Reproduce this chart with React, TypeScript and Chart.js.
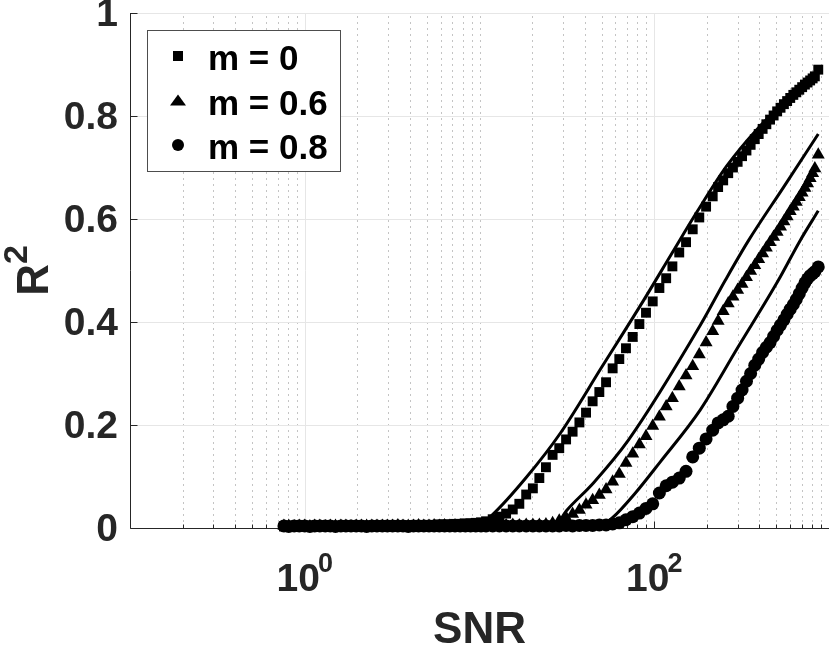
import { useEffect, useRef } from "react"
import { Chart, registerables } from "chart.js"

Chart.register(...registerables)

// SNR values shared by the three simulated series
const snr = [
  0.76, 0.81, 0.87, 0.93, 1.0, 1.07, 1.14, 1.22, 1.31, 1.4,
  1.5, 1.61, 1.72, 1.84, 1.97, 2.11, 2.26, 2.42, 2.59, 2.78,
  2.97, 3.18, 3.41, 3.65, 3.91, 4.19, 4.48, 4.8, 5.14, 5.5,
  5.89, 6.31, 6.76, 7.24, 7.75, 8.3, 8.89, 9.52, 10.2, 10.9,
  11.9, 13.0, 14.2, 15.5, 16.9, 18.5, 20.2, 22.0, 24.0, 26.2,
  28.6, 31.3, 34.1, 37.3, 40.7, 44.4, 48.5, 53.0, 57.8, 63.1,
  68.9, 75.3, 82.2, 89.7, 98.0, 107, 117, 127, 139, 152,
  166, 181, 198, 216, 232, 248, 265, 282, 300, 318,
  337, 356, 376, 396, 417, 438, 460, 482, 505, 528,
  552, 576, 600, 625, 650, 676, 702, 728, 754, 780,
  806, 830, 868,
]

// m = 0 (squares)
const r2M0 = [
  0.003, 0.003, 0.003, 0.004, 0.003, 0.004, 0.003, 0.004, 0.004, 0.003,
  0.004, 0.004, 0.003, 0.004, 0.004, 0.004, 0.005, 0.004, 0.004, 0.005,
  0.005, 0.004, 0.005, 0.005, 0.005, 0.006, 0.005, 0.006, 0.006, 0.006,
  0.007, 0.007, 0.007, 0.008, 0.008, 0.009, 0.009, 0.01, 0.011, 0.013,
  0.017, 0.022, 0.028, 0.036, 0.047, 0.065, 0.077, 0.097, 0.118, 0.142,
  0.155, 0.172, 0.187, 0.205, 0.224, 0.246, 0.264, 0.283, 0.31, 0.328,
  0.349, 0.371, 0.396, 0.418, 0.44, 0.466, 0.485, 0.508, 0.535, 0.555,
  0.58, 0.603, 0.624, 0.644, 0.662, 0.675, 0.689, 0.7, 0.711, 0.722,
  0.733, 0.744, 0.755, 0.765, 0.775, 0.784, 0.793, 0.801, 0.809, 0.816,
  0.823, 0.829, 0.835, 0.841, 0.846, 0.851, 0.856, 0.861, 0.865, 0.869,
  0.873, 0.877, 0.89,
]

// m = 0.6 (triangles)
const r2M06 = [
  0.004, 0.004, 0.003, 0.004, 0.004, 0.003, 0.004, 0.004, 0.003, 0.004,
  0.004, 0.004, 0.004, 0.003, 0.004, 0.004, 0.004, 0.004, 0.004, 0.004,
  0.004, 0.004, 0.005, 0.004, 0.004, 0.004, 0.005, 0.004, 0.004, 0.005,
  0.004, 0.005, 0.004, 0.005, 0.005, 0.004, 0.005, 0.005, 0.005, 0.005,
  0.005, 0.005, 0.005, 0.006, 0.005, 0.006, 0.006, 0.006, 0.007, 0.009,
  0.014, 0.02, 0.027, 0.035, 0.045, 0.054, 0.064, 0.075, 0.09, 0.105,
  0.126, 0.144, 0.162, 0.178, 0.198, 0.216, 0.236, 0.252, 0.275, 0.296,
  0.314, 0.337, 0.36, 0.382, 0.402, 0.421, 0.436, 0.449, 0.462, 0.474,
  0.487, 0.499, 0.51, 0.522, 0.533, 0.544, 0.555, 0.565, 0.575, 0.585,
  0.595, 0.605, 0.615, 0.624, 0.633, 0.642, 0.651, 0.66, 0.669, 0.679,
  0.689, 0.698, 0.725,
]

// m = 0.8 (circles)
const r2M08 = [
  0.004, 0.003, 0.004, 0.004, 0.004, 0.003, 0.004, 0.004, 0.004, 0.004,
  0.003, 0.004, 0.004, 0.004, 0.004, 0.004, 0.003, 0.004, 0.004, 0.004,
  0.004, 0.004, 0.004, 0.004, 0.003, 0.004, 0.004, 0.004, 0.004, 0.004,
  0.004, 0.004, 0.004, 0.004, 0.004, 0.004, 0.004, 0.004, 0.004, 0.004,
  0.004, 0.004, 0.004, 0.004, 0.004, 0.004, 0.004, 0.004, 0.004, 0.004,
  0.004, 0.005, 0.004, 0.005, 0.005, 0.005, 0.006, 0.006, 0.008, 0.01,
  0.016, 0.022, 0.029, 0.038, 0.047, 0.068, 0.082, 0.089, 0.097, 0.11,
  0.138, 0.155, 0.173, 0.19, 0.204, 0.21, 0.217, 0.236, 0.252, 0.268,
  0.285, 0.3, 0.316, 0.328, 0.341, 0.351, 0.36, 0.372, 0.384, 0.394,
  0.404, 0.415, 0.425, 0.434, 0.444, 0.455, 0.466, 0.476, 0.484, 0.49,
  0.494, 0.498, 0.507,
]

// fitted curves (solid lines)
const fitM0Snr = [0.76, 10.0, 11.8, 18.5, 29.0, 50.2, 86.9, 126, 175, 260, 387, 573, 865]
const fitM0R2 = [0.004, 0.006, 0.025, 0.098, 0.184, 0.313, 0.442, 0.533, 0.613, 0.703, 0.774, 0.83, 0.882]
const fitM06Snr = [0.76, 27, 31.7, 45, 71.3, 183, 255, 346, 550, 868]
const fitM06R2 = [0.004, 0.006, 0.035, 0.088, 0.171, 0.393, 0.481, 0.558, 0.662, 0.765]
const fitM08Snr = [0.76, 50, 57.3, 78, 108, 183, 300, 513, 683, 868]
const fitM08R2 = [0.004, 0.006, 0.019, 0.068, 0.128, 0.229, 0.35, 0.481, 0.558, 0.616]

const yTicks = [0, 0.2, 0.4, 0.6, 0.8, 1]
const xMajorTicks = [1, 100]
const xTickExponents = ["0", "2"]
const legendLabels = ["m = 0", "m = 0.6", "m = 0.8"]
const legendMarkers = ["rect", "triangle", "circle"]

const FONT = '"Liberation Sans", Arial, Helvetica, sans-serif'
const AXIS_COLOR = "#262626"

const toPoints = (xs: number[], ys: number[]) => xs.map((x, i) => ({ x, y: ys[i] }))

const crisp = (v: number) => Math.round(v) + 0.5

// grid, axes and inward ticks in the MATLAB style
const axesPlugin = {
  id: "matlabAxes",
  beforeDatasetsDraw(chart: any) {
    const { ctx, chartArea: a, scales } = chart
    const xs = scales.x
    const ys = scales.y
    ctx.save()
    ctx.lineWidth = 1

    // minor x grid (dotted)
    const minors: number[] = []
    for (let e = -1; e < 3; e++) {
      for (let k = 1; k < 10; k++) {
        const v = k * Math.pow(10, e)
        if (e === -1 && k === 1) continue
        if (xMajorTicks.some((m) => Math.abs(m - v) < 1e-9)) continue
        minors.push(v)
      }
    }
    ctx.strokeStyle = "#c4c4c4"
    ctx.setLineDash([2, 4])
    minors.forEach((v) => {
      const px = crisp(xs.getPixelForValue(v))
      ctx.beginPath()
      ctx.moveTo(px, a.bottom)
      ctx.lineTo(px, a.top)
      ctx.stroke()
    })

    // major grid (solid)
    ctx.setLineDash([])
    ctx.strokeStyle = "#e6e6e6"
    xMajorTicks.forEach((v) => {
      const px = crisp(xs.getPixelForValue(v))
      ctx.beginPath()
      ctx.moveTo(px, a.bottom)
      ctx.lineTo(px, a.top)
      ctx.stroke()
    })
    yTicks.forEach((v) => {
      if (v === 0) return
      const py = crisp(ys.getPixelForValue(v))
      ctx.beginPath()
      ctx.moveTo(a.left, py)
      ctx.lineTo(a.right, py)
      ctx.stroke()
    })

    // axes lines
    ctx.strokeStyle = AXIS_COLOR
    const left = crisp(a.left)
    const bottom = crisp(a.bottom)
    ctx.beginPath()
    ctx.moveTo(left, a.top)
    ctx.lineTo(left, bottom)
    ctx.lineTo(a.right, bottom)
    ctx.stroke()

    // inward ticks
    yTicks.forEach((v) => {
      const py = crisp(ys.getPixelForValue(v))
      ctx.beginPath()
      ctx.moveTo(left, py)
      ctx.lineTo(left + 7, py)
      ctx.stroke()
    })
    xMajorTicks.forEach((v) => {
      const px = crisp(xs.getPixelForValue(v))
      ctx.beginPath()
      ctx.moveTo(px, bottom)
      ctx.lineTo(px, bottom - 7)
      ctx.stroke()
    })
    minors.forEach((v) => {
      const px = crisp(xs.getPixelForValue(v))
      ctx.beginPath()
      ctx.moveTo(px, bottom)
      ctx.lineTo(px, bottom - 4)
      ctx.stroke()
    })
    ctx.restore()
  },
  afterDraw(chart: any) {
    const { ctx, chartArea: a, scales } = chart
    const xs = scales.x
    ctx.save()
    ctx.fillStyle = AXIS_COLOR
    ctx.textAlign = "left"
    ctx.textBaseline = "alphabetic"

    // x tick labels: 10 with a raised exponent
    xMajorTicks.forEach((v, i) => {
      const px = xs.getPixelForValue(v)
      ctx.font = `bold 39px ${FONT}`
      const wBase = ctx.measureText("10").width
      ctx.font = `bold 27px ${FONT}`
      const wSup = ctx.measureText(xTickExponents[i]).width
      const start = px - (wBase + wSup - 2) / 2
      ctx.font = `bold 39px ${FONT}`
      ctx.fillText("10", start, a.bottom + 63)
      ctx.font = `bold 27px ${FONT}`
      ctx.fillText(xTickExponents[i], start + wBase - 2, a.bottom + 44)
    })

    // y axis title R^2
    ctx.font = `bold 44px ${FONT}`
    const wR = ctx.measureText("R").width
    ctx.font = `bold 34px ${FONT}`
    const w2 = ctx.measureText("2").width
    const cy = (a.top + a.bottom) / 2
    ctx.save()
    ctx.translate(48, cy + (wR + w2) / 2)
    ctx.rotate(-Math.PI / 2)
    ctx.font = `bold 44px ${FONT}`
    ctx.fillText("R", 0, 0)
    ctx.font = `bold 34px ${FONT}`
    ctx.fillText("2", wR, -21)
    ctx.restore()

    // legend
    const bx = a.left + 17
    const by = a.top + 17
    ctx.fillStyle = "#ffffff"
    ctx.fillRect(bx, by, 193, 141)
    ctx.strokeStyle = "#4d4d4d"
    ctx.lineWidth = 1
    ctx.strokeRect(bx + 0.5, by + 0.5, 193, 141)
    legendLabels.forEach((label, i) => {
      const base = by + 40 + i * 44.5
      const mx = bx + 31
      const my = base - 14
      ctx.fillStyle = "#000000"
      ctx.beginPath()
      if (legendMarkers[i] === "rect") {
        ctx.rect(mx - 5, my - 5, 10, 10)
      } else if (legendMarkers[i] === "triangle") {
        ctx.moveTo(mx, my - 6)
        ctx.lineTo(mx + 8, my + 5)
        ctx.lineTo(mx - 8, my + 5)
        ctx.closePath()
      } else {
        ctx.arc(mx, my, 6, 0, Math.PI * 2)
      }
      ctx.fill()
      ctx.font = `bold 35px ${FONT}`
      ctx.fillText(label, bx + 61, base)
    })
    ctx.restore()
  },
}

export default function App() {
  const chartRef = useRef<HTMLCanvasElement>(null)
  const chartInstance = useRef<Chart | null>(null)

  useEffect(() => {
    document.body.style.margin = "0"
    if (!chartRef.current) return

    if (chartInstance.current) {
      chartInstance.current.destroy()
    }

    const ctx = chartRef.current.getContext("2d")
    if (!ctx) return

    const markerSet = (label: string, ys: number[], style: string, radius: number) => ({
      label,
      data: toPoints(snr, ys),
      showLine: false,
      pointStyle: style,
      pointRadius: radius,
      pointBackgroundColor: "#000000",
      pointBorderWidth: 0,
      borderWidth: 0,
      clip: false,
    })
    const fitLine = (xs: number[], ys: number[]) => ({
      label: "fit",
      data: toPoints(xs, ys),
      showLine: true,
      pointRadius: 0,
      borderColor: "#000000",
      borderWidth: 3,
      cubicInterpolationMode: "monotone",
      fill: false,
    })

    chartInstance.current = new Chart(ctx, {
      type: "scatter",
      data: {
        datasets: [
          fitLine(fitM0Snr, fitM0R2),
          fitLine(fitM06Snr, fitM06R2),
          fitLine(fitM08Snr, fitM08R2),
          markerSet(legendLabels[0], r2M0, "rect", 7),
          markerSet(legendLabels[1], r2M06, "triangle", 7.5),
          markerSet(legendLabels[2], r2M08, "circle", 6.5),
        ] as any,
      },
      options: {
        animation: false,
        responsive: true,
        maintainAspectRatio: false,
        layout: { autoPadding: false, padding: { top: 13, right: 1, left: 0, bottom: 0 } },
        plugins: {
          legend: { display: false },
          tooltip: { enabled: false },
        },
        scales: {
          x: {
            type: "logarithmic",
            min: 0.1,
            max: 1000,
            grid: { display: false, drawTicks: false },
            border: { display: false },
            ticks: { display: false },
            title: {
              display: true,
              text: "SNR",
              color: AXIS_COLOR,
              font: { family: FONT, size: 44, weight: "bold" },
              padding: { top: 0, bottom: -10 },
            },
            afterFit: (s: any) => {
              s.height = 119
              s.paddingLeft = 0
              s.paddingRight = 0
            },
          },
          y: {
            min: 0,
            max: 1,
            grid: { display: false, drawTicks: false },
            border: { display: false },
            afterBuildTicks: (s: any) => {
              s.ticks = yTicks.map((value) => ({ value }))
            },
            ticks: {
              padding: 12,
              labelOffset: 2,
              color: AXIS_COLOR,
              font: { family: FONT, size: 39, weight: "bold" },
              callback: (v: any) => String(v),
            },
            afterFit: (s: any) => {
              s.width = 130
              s.paddingTop = 0
              s.paddingBottom = 0
            },
          },
        },
      } as any,
      plugins: [axesPlugin],
    })

    return () => {
      if (chartInstance.current) {
        chartInstance.current.destroy()
        chartInstance.current = null
      }
    }
  }, [])

  return (
    <div style={{ width: 830, height: 647, position: "relative" }}>
      <canvas ref={chartRef} />
    </div>
  )
}
